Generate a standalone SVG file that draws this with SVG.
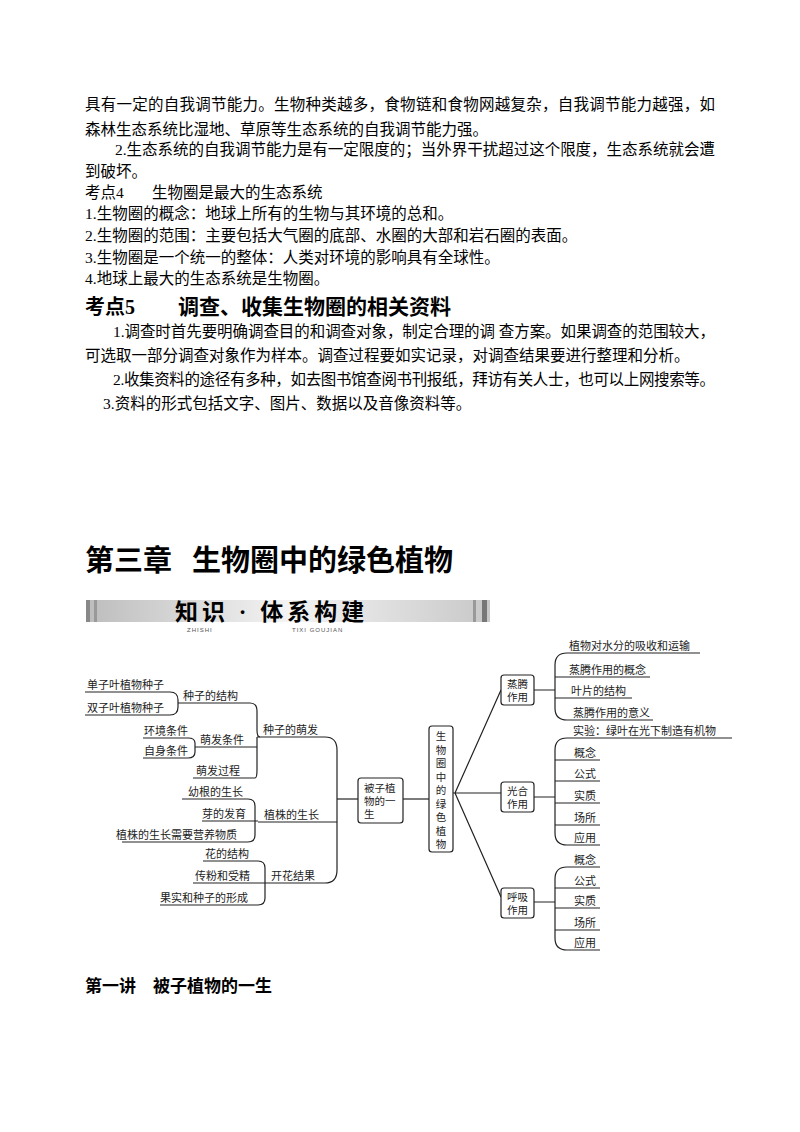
<svg xmlns="http://www.w3.org/2000/svg" width="800" height="1132" viewBox="0 0 800 1132">
<defs>
<style>
.t{font-family:"Liberation Serif","Noto Sans CJK SC",serif;font-size:15.5px;fill:#000}
.h{font-family:"Liberation Serif","Noto Sans CJK SC",serif;font-weight:bold;fill:#000}
.m{font-family:"Noto Sans CJK SC",sans-serif;font-size:11px;fill:#222}
.c{font-family:"Noto Sans CJK SC",sans-serif;font-size:10.5px;fill:#222}
.l{fill:none;stroke:#222;stroke-width:1.2}
.b{fill:#fff;stroke:#222;stroke-width:1.2}
</style>
<linearGradient id="g" x1="0" x2="1" y1="0" y2="0">
<stop offset="0" stop-color="#bdbdbd"/><stop offset="0.5" stop-color="#f4f4f4"/><stop offset="1" stop-color="#c8c8c8"/>
</linearGradient>
</defs>
<rect width="800" height="1132" fill="#fff"/>
<g id="text">
<text class="t" x="85" y="110" textLength="630" lengthAdjust="spacing">具有一定的自我调节能力。生物种类越多，食物链和食物网越复杂，自我调节能力越强，如</text>
<text class="t" x="85" y="135">森林生态系统比湿地、草原等生态系统的自我调节能力强。</text>
<text class="t" x="115" y="155" textLength="600" lengthAdjust="spacing">2.生态系统的自我调节能力是有一定限度的；当外界干扰超过这个限度，生态系统就会遭</text>
<text class="t" x="85" y="177">到破坏。</text>
<text class="t" x="85" y="198">考点4</text>
<text class="t" x="152" y="198">生物圈是最大的生态系统</text>
<text class="t" x="85" y="219">1.生物圈的概念：地球上所有的生物与其环境的总和。</text>
<text class="t" x="85" y="241">2.生物圈的范围：主要包括大气圈的底部、水圈的大部和岩石圈的表面。</text>
<text class="t" x="85" y="263">3.生物圈是一个统一的整体：人类对环境的影响具有全球性。</text>
<text class="t" x="85" y="284">4.地球上最大的生态系统是生物圈。</text>
<text class="h" x="85" y="314" font-size="20">考点5</text>
<text class="h" x="178" y="314" font-size="21">调查、收集生物圈的相关资料</text>
<text class="t" x="113" y="337" textLength="602" lengthAdjust="spacing">1.调查时首先要明确调查目的和调查对象，制定合理的调  查方案。如果调查的范围较大，</text>
<text class="t" x="85" y="361">可选取一部分调查对象作为样本。调查过程要如实记录，对调查结果要进行整理和分析。</text>
<text class="t" x="113" y="385" textLength="602" lengthAdjust="spacing">2.收集资料的途径有多种，如去图书馆查阅书刊报纸，拜访有关人士，也可以上网搜索等。</text>
<text class="t" x="103" y="409">3.资料的形式包括文字、图片、数据以及音像资料等。</text>
<text class="h" x="85" y="571" font-size="29">第三章</text>
<text class="h" x="192" y="571" font-size="29">生物圈中的绿色植物</text>
<text class="h" x="85" y="992" font-size="17">第一讲　被子植物的一生</text>
</g>
<g id="banner">
<rect x="88" y="600" width="402" height="22" fill="url(#g)"/>
<rect x="86" y="600" width="4" height="22" fill="#888"/><rect x="94" y="600" width="3" height="22" fill="#999"/>
<rect x="473" y="600" width="3" height="22" fill="#999"/><rect x="482" y="600" width="5" height="22" fill="#777"/>
<text class="h" x="175" y="620" font-size="23" font-family="Noto Sans CJK SC,sans-serif" letter-spacing="4">知识 · 体系构建</text>
<text x="187" y="632" font-family="Liberation Sans,sans-serif" font-size="6" fill="#555" letter-spacing="1">ZHISHI</text>
<text x="292" y="632" font-family="Liberation Sans,sans-serif" font-size="6" fill="#555" letter-spacing="1">TIXI GOUJIAN</text>
</g>
<g id="connectors">
<path class="l" d="M85,692 H170 Q178,692 178,700 V707 Q178,715 170,715 H85"/>
<path class="l" d="M178,703 H250 Q257,703 257,711 V730 Q257,737 260,737 M255,778 Q257,778 257,770 V737"/>
<path class="l" d="M193,778 H255"/>
<path class="l" d="M143,738 H188 Q195,738 195,743 V752 Q195,758 188,758 H143"/>
<path class="l" d="M195,747 H257"/>
<path class="l" d="M257,737 H325 Q337,737 337,750 V870 Q337,883 325,883 H265"/>
<path class="l" d="M258,822 H337"/>
<path class="l" d="M337,799 H358"/>
<path class="l" d="M182,799 H248 Q255,799 255,806 V835 Q255,842 248,842 H122"/>
<path class="l" d="M202,821 H258"/>
<path class="l" d="M203,861 H258 Q265,861 265,868 V898 Q265,905 258,905 H160"/>
<path class="l" d="M193,883 H265"/>
<path class="l" d="M403,799 H429"/>
<path class="l" d="M453,793 H502 M455,793 L501,690 M455,793 L501,897"/>
<path class="l" d="M534,690 H555 M534,797 H555 M534,902 H555"/>
<path class="l" d="M700,653 H567 Q555,653 555,665 V708 Q555,720 567,720 H653 M555,677 H650 M555,698 H632"/>
<path class="l" d="M732,738 H567 Q555,738 555,750 V833 Q555,845 567,845 H600 M555,760 H600 M555,781 H600 M555,803 H600 M555,825 H600"/>
<path class="l" d="M600,867 H567 Q555,867 555,879 V938 Q555,950 567,950 H600 M555,888 H600 M555,908 H600 M555,930 H600"/>
</g>
<g id="n-seed" class="m">
<text x="87" y="689">单子叶植物种子</text><text x="87" y="712">双子叶植物种子</text>
<text x="183" y="700">种子的结构</text>
<text x="144" y="735">环境条件</text><text x="144" y="755">自身条件</text>
<text x="200" y="744">萌发条件</text><text x="196" y="775">萌发过程</text>
<text x="263" y="734">种子的萌发</text>
<text x="188" y="796">幼根的生长</text><text x="202" y="818">芽的发育</text>
<text x="116" y="839">植株的生长需要营养物质</text>
<text x="264" y="819">植株的生长</text>
<text x="205" y="858">花的结构</text><text x="195" y="880">传粉和受精</text>
<text x="160" y="902">果实和种子的形成</text>
<text x="271" y="880">开花结果</text>
</g>
<g id="n-life">
<rect class="b" x="358" y="778" width="45" height="45" rx="3"/>
<text class="c" x="364" y="792">被子植</text><text class="c" x="364" y="805">物的一</text><text class="c" x="364" y="818">生</text>
</g>
<g id="n-center" class="c" text-anchor="middle">
<rect class="b" x="429" y="726" width="24" height="126" rx="3"/>
<text x="441" y="740">生</text><text x="441" y="753.5">物</text>
<text x="441" y="767">圈</text><text x="441" y="780.5">中</text>
<text x="441" y="794">的</text><text x="441" y="807.5">绿</text>
<text x="441" y="821">色</text><text x="441" y="834.5">植</text>
<text x="441" y="848">物</text>
</g>
<g id="n-right">
<rect class="b" x="501" y="675" width="33" height="30" rx="3"/>
<text class="c" x="507" y="688">蒸腾</text><text class="c" x="507" y="701">作用</text>
<rect class="b" x="501" y="782" width="33" height="30" rx="3"/>
<text class="c" x="507" y="795">光合</text><text class="c" x="507" y="808">作用</text>
<rect class="b" x="501" y="888" width="33" height="30" rx="3"/>
<text class="c" x="507" y="901">呼吸</text><text class="c" x="507" y="914">作用</text>
<g class="m">
<text x="569" y="650">植物对水分的吸收和运输</text><text x="569" y="674">蒸腾作用的概念</text>
<text x="571" y="695">叶片的结构</text><text x="573" y="717">蒸腾作用的意义</text>
<text x="573" y="735">实验：绿叶在光下制造有机物</text>
<text x="574" y="757">概念</text><text x="574" y="778">公式</text><text x="574" y="800">实质</text>
<text x="574" y="822">场所</text><text x="574" y="842">应用</text>
<text x="574" y="864">概念</text><text x="574" y="885">公式</text><text x="574" y="905">实质</text>
<text x="574" y="927">场所</text><text x="574" y="947">应用</text>
</g>
</g>
</svg>
